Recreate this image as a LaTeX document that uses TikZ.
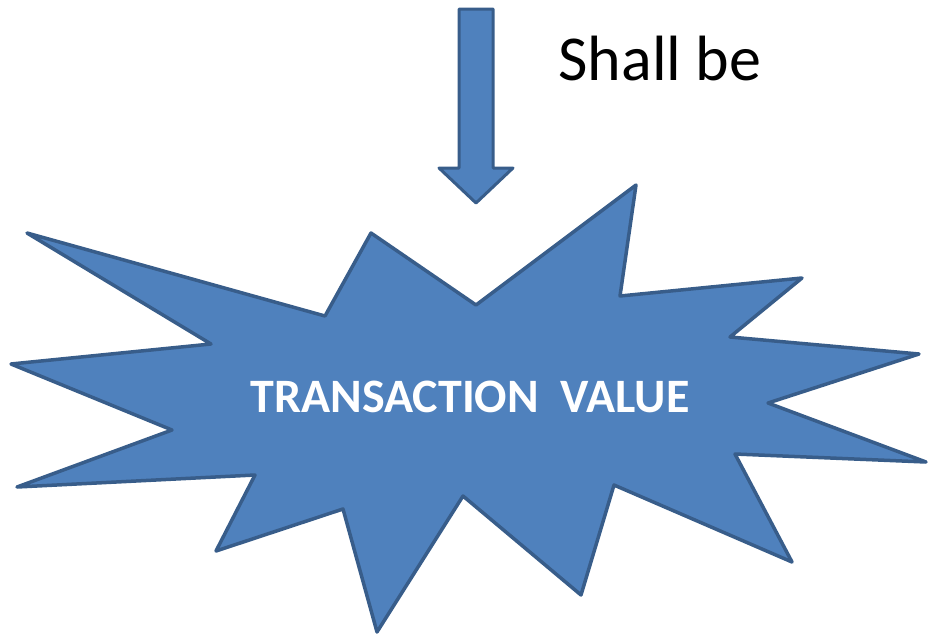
\documentclass[tikz,border=0pt]{standalone}
\usepackage{fontspec}
\setmainfont{Carlito}
\usepackage{tikz}
\usetikzlibrary{shapes,arrows,positioning}
\definecolor{burstfill}{HTML}{4F81BD}
\definecolor{burstline}{HTML}{385D8A}

\begin{document}
\begin{tikzpicture}[x=1pt, y=-1pt,
    blockshape/.style={fill=burstfill, draw=burstline, line width=3.5pt, line join=round},
    burstlabel/.style={text=white, font=\fontsize{48}{58}\selectfont\bfseries},
    arrowlabel/.style={text=black, font=\fontsize{64}{76}\selectfont}]
      \useasboundingbox (0,0) rectangle (928,635);

      % Burst
      \draw[blockshape] (27,233) -- (325,316) -- (371,233) -- (476,305) -- (636,185)
        -- (620,296) -- (802,278) -- (730,337) -- (919,354) -- (768,403)
        -- (926,462) -- (735,454) -- (792,562) -- (614,485) -- (581,595)
        -- (463,496) -- (377,632) -- (343,509) -- (216,551) -- (255,475)
        -- (17,487) -- (172,430) -- (11,364) -- (211,344) -- cycle;
      \node[burstlabel] (value) at (470,397) {TRANSACTION\ \ VALUE};

      % Arrow
      \draw[blockshape, line width=3pt] (459,9) -- (493,9) -- (493,168) -- (513,168)
        -- (476,203) -- (439,168) -- (459,168) -- cycle;
      \node[arrowlabel] (shall) at (660,59) {Shall be};
    \end{tikzpicture}
\end{document}
